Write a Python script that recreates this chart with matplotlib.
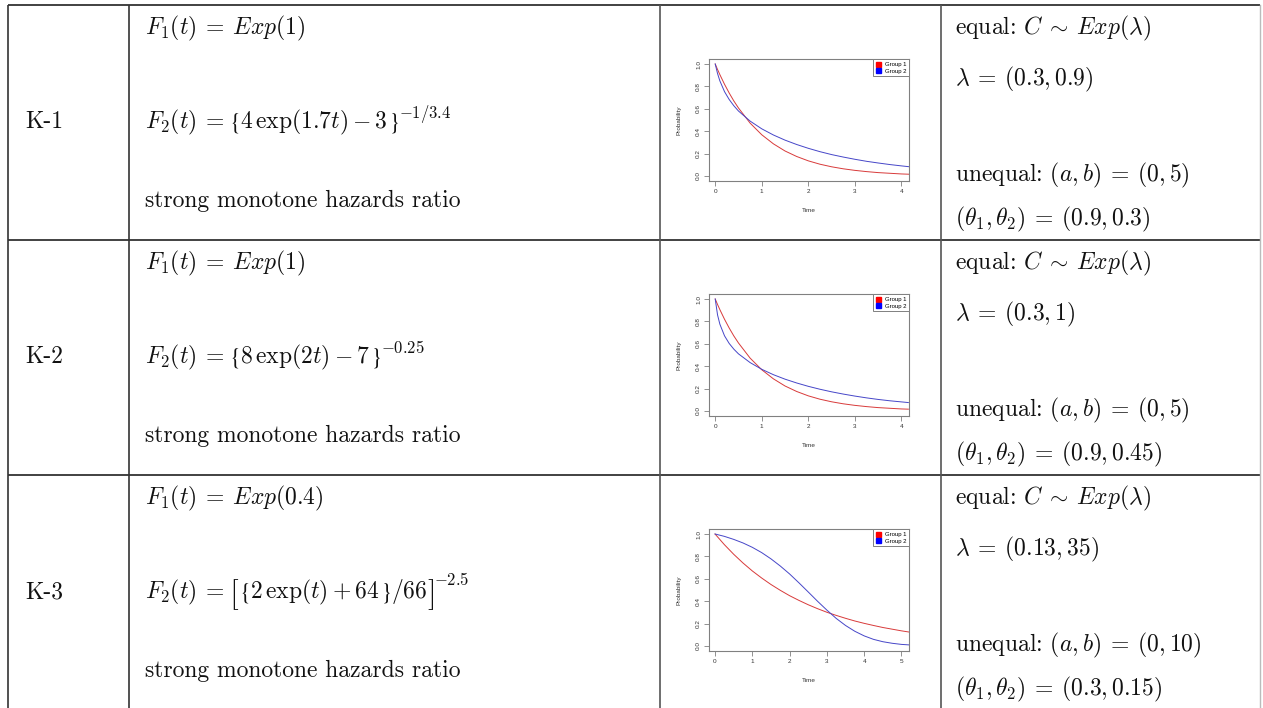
import matplotlib
matplotlib.use("Agg")
import matplotlib.pyplot as plt
from matplotlib.patches import Patch

plt.rcParams["mathtext.fontset"] = "cm"
plt.rcParams["axes.unicode_minus"] = False

# ---- table text ----
labels = ["K-1", "K-2", "K-3"]
f1_text = [r"$F_1(t)\>=\>Exp(1)$", r"$F_1(t)\>=\>Exp(1)$", r"$F_1(t)\>=\>Exp(0.4)$"]
f2_inner = [r"$4\,\exp(1.7t) - 3$", r"$8\,\exp(2t) - 7$", r"$2\,\exp(t) + 64$"]
f2_power = [r"$-1/3.4$", r"$-0.25$", r"$-2.5$"]
desc_text = ["strong monotone hazards ratio"] * 3
lam_text = [r"$\lambda\>=\>(0.3, 0.9)$", r"$\lambda\>=\>(0.3, 1)$", r"$\lambda\>=\>(0.13, 35)$"]
ab_text = [r"unequal: $(a, b)\>=\>(0, 5)$", r"unequal: $(a, b)\>=\>(0, 5)$",
           r"unequal: $(a, b)\>=\>(0, 10)$"]
theta_text = [r"$(\theta_1, \theta_2)\>=\>(0.9, 0.3)$", r"$(\theta_1, \theta_2)\>=\>(0.9, 0.45)$",
              r"$(\theta_1, \theta_2)\>=\>(0.3, 0.15)$"]

# ---- survival curves ----
k1_t = [0, .05, .1, .2, .3, .4, .5, .75, 1, 1.25, 1.5, 1.75, 2, 2.25, 2.5, 2.75,
        3, 3.25, 3.5, 3.75, 4, 4.2]
k1_g1 = [1, .951, .905, .819, .741, .670, .607, .472, .368, .287, .223, .174, .135,
         .105, .082, .064, .050, .039, .030, .024, .018, .015]
k1_g2 = [1, .915, .849, .753, .683, .627, .580, .490, .421, .366, .320, .281, .247,
         .217, .191, .169, .149, .131, .116, .102, .090, .081]

k2_t = [0, .05, .1, .2, .3, .4, .5, .75, 1, 1.25, 1.5, 1.75, 2, 2.25, 2.5, 2.75,
        3, 3.25, 3.5, 3.75, 4, 4.15]
k2_g1 = [1, .951, .905, .819, .741, .670, .607, .472, .368, .287, .223, .174, .135,
         .105, .082, .064, .050, .039, .030, .024, .018, .016]
k2_g2 = [1, .858, .775, .671, .603, .552, .510, .432, .372, .324, .284, .250, .220,
         .194, .171, .151, .133, .117, .103, .091, .081, .075]

k3_t = [0, .25, .5, .75, 1, 1.25, 1.5, 1.75, 2, 2.25, 2.5, 2.75, 3, 3.25, 3.5,
        3.75, 4, 4.25, 4.5, 4.75, 5, 5.25]
k3_g1 = [1, .905, .819, .741, .670, .607, .549, .497, .449, .407, .368, .333, .301,
         .273, .247, .223, .202, .183, .165, .150, .135, .122]
k3_g2 = [1, .979, .952, .920, .881, .834, .778, .714, .643, .564, .482, .399, .320,
         .246, .183, .131, .090, .059, .038, .024, .014, .0085]

curves = [(k1_t, k1_g1, k1_g2), (k2_t, k2_g1, k2_g2), (k3_t, k3_g1, k3_g2)]
xlims = [(-0.14, 4.17), (-0.14, 4.17), (-0.17, 5.21)]
xticks = [[0, 1, 2, 3, 4], [0, 1, 2, 3, 4], [0, 1, 2, 3, 4, 5]]
yticks = [0.0, 0.2, 0.4, 0.6, 0.8, 1.0]

W, H = 1263, 708
fig = plt.figure(figsize=(W / 100, H / 100), dpi=100)

# overlay in pixel coordinates for the table
tab = fig.add_axes([0, 0, 1, 1])
tab.set_xlim(0, W)
tab.set_ylim(H, 0)
tab.axis("off")

row_tops = [4.5, 239.5, 474.5]
col_x = [7.5, 129, 660, 941]
line_c = "#333333"
for y in row_tops:
    tab.plot([col_x[0], 1260], [y, y], color=line_c, lw=1.3, solid_capstyle="butt")
for x in col_x:
    tab.plot([x, x], [row_tops[0], H + 5], color=line_c if x < 200 else "#555555",
             lw=1.2, solid_capstyle="butt")
tab.plot([1260, 1260], [row_tops[0], H + 5], color="#bbbbbb", lw=1)

fs = 17
tkw = dict(fontfamily="cmr10", fontsize=fs, va="baseline", ha="left", color="#111111")
brace_kw = dict(tkw, math_fontfamily="stix")
sup_kw = dict(tkw, fontsize=12)
big_kw = dict(tkw, fontsize=23)

renderer = fig.canvas.get_renderer()


def draw_seq(x, y, pieces):
    # place text pieces one after another along a baseline (pixel coords)
    for s, kw, dy, gap in pieces:
        t = tab.text(x, y - dy, s, **kw)
        x += t.get_window_extent(renderer=renderer).width + gap
    return x


for i, top in enumerate(row_tops):
    base = top + 123.8
    tab.text(25, base, labels[i], **tkw)
    tab.text(145, top + 29.5, f1_text[i], **tkw)
    seq = [(r"$F_2(t)\>=\>$", tkw, 0, 4)]
    if i == 2:
        seq.append((r"$[$", big_kw, -3.5, 0))
    seq += [(r"$\{$", brace_kw, 0, 1), (f2_inner[i], tkw, 0, 0), (r"$\}$", brace_kw, 0, 0)]
    if i == 2:
        seq += [(r"$/66$", tkw, 0, 0), (r"$]$", big_kw, -3.5, 0)]
    seq.append((f2_power[i], sup_kw, 13 if i == 2 else 10, 0))
    draw_seq(145, base, seq)
    tab.text(145, top + 202.8, desc_text[i], **tkw)
    tab.text(955, top + 29.5, r"equal: $C\>\sim\>Exp(\lambda)$", **tkw)
    tab.text(955, top + 80.5, lam_text[i], **tkw)
    tab.text(955, top + 177.2, ab_text[i], **tkw)
    tab.text(955, top + 220.5, theta_text[i], **tkw)

# small survival panels
ax_l, ax_r = 708.7, 909.3
gray = "#808080"
small = dict(family="Liberation Sans", size=4.6)
for i, top in enumerate(row_tops):
    t_top, t_bot = top + 54.8, top + 176.5
    ax = fig.add_axes([ax_l / W, 1 - t_bot / H, (ax_r - ax_l) / W, (t_bot - t_top) / H])
    t, g1, g2 = curves[i]
    ax.plot(t, g1, color="#d83a3a", lw=0.7)
    ax.plot(t, g2, color="#4646c8", lw=0.7)
    ax.set_xlim(*xlims[i])
    ax.set_ylim(-0.045, 1.042)
    ax.set_xticks(xticks[i])
    ax.set_yticks(yticks)
    ax.set_yticklabels([f"{v:.1f}" for v in yticks], rotation=90, va="center", **small)
    ax.set_xticklabels([str(v) for v in xticks[i]], **small)
    ax.tick_params(length=3.5, width=0.6, color=gray, pad=2, labelcolor="#333333")
    for sp in ax.spines.values():
        sp.set_color(gray)
        sp.set_linewidth(0.8)
    ax.set_xlabel("Time", fontdict=small, color="#333333")
    ax.set_ylabel("Probability", fontdict=small, color="#333333")
    ax.xaxis.set_label_coords(0.5, -0.22)
    ax.yaxis.set_label_coords(-0.135, 0.5)
    handles = [Patch(facecolor="red", edgecolor="red"),
               Patch(facecolor="blue", edgecolor="blue")]
    leg = ax.legend(handles, ["Group 1", "Group 2"], loc="upper right",
                    prop=dict(family="Liberation Sans", size=4.3),
                    fancybox=False, edgecolor=gray, framealpha=1, borderaxespad=0,
                    handlelength=0.8, handleheight=0.8, handletextpad=0.7,
                    borderpad=0.45, labelspacing=0.15)
    leg.get_frame().set_linewidth(0.7)

fig.savefig("out.png", dpi=100)
